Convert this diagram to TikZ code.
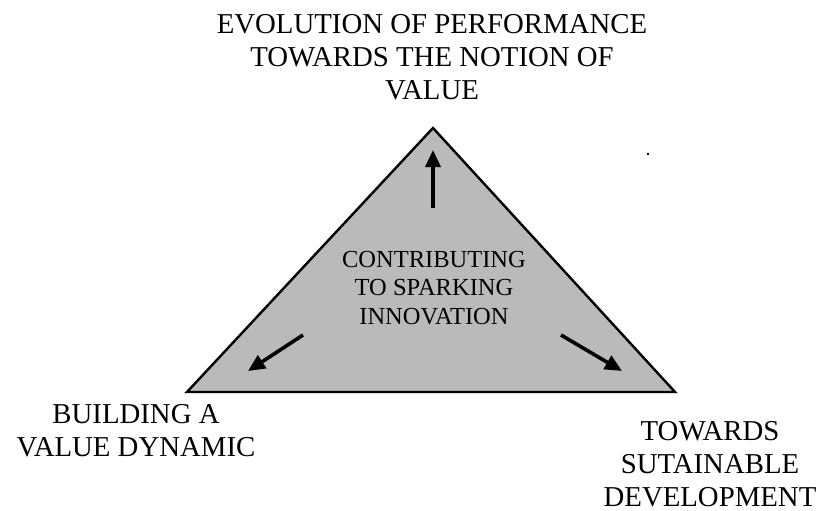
\documentclass[tikz,border=0pt]{standalone}
\usepackage{fontspec}
\setmainfont{Liberation Serif}
\usetikzlibrary{arrows.meta}
\begin{document}
\begin{tikzpicture}[x=1pt,y=-1pt,
  label/.style={align=center,inner sep=0pt,anchor=north,font=\fontsize{28.8}{33}\selectfont},
  inner/.style={align=center,inner sep=0pt,anchor=north,font=\fontsize{24.5}{28.5}\selectfont},
  tri/.style={draw=black,line width=2.4pt,line join=miter,fill=black!27},
  push/.style={line width=3.6pt,-{Triangle[length=17pt,width=15pt]}}]
\useasboundingbox[fill=white] (0,0) rectangle (817,511);
\coordinate (apex) at (433,128);
\coordinate (lb) at (187,392);
\coordinate (rb) at (675,392);
\draw[tri] (apex) -- (lb) -- (rb) -- cycle;
\coordinate (upS) at (433,208);
\coordinate (upE) at (433,150);
\coordinate (lS) at (303,335);
\coordinate (lE) at (248,371);
\coordinate (rS) at (561,335);
\coordinate (rE) at (622,371);
\draw[push] (upS) -- (upE);
\draw[push] (lS) -- (lE);
\draw[push] (rS) -- (rE);
\node[label] (top) at (432,14) {EVOLUTION OF PERFORMANCE\\TOWARDS THE NOTION OF\\VALUE};
\node[label] (left) at (136,404) {BUILDING A\\VALUE DYNAMIC};
\node[label] (right) at (710,421) {TOWARDS\\SUTAINABLE\\DEVELOPMENT};
\node[inner] (mid) at (434,251) {CONTRIBUTING\\TO SPARKING\\INNOVATION};
\fill (647,153) rectangle (649,155);
\end{tikzpicture}
\end{document}
